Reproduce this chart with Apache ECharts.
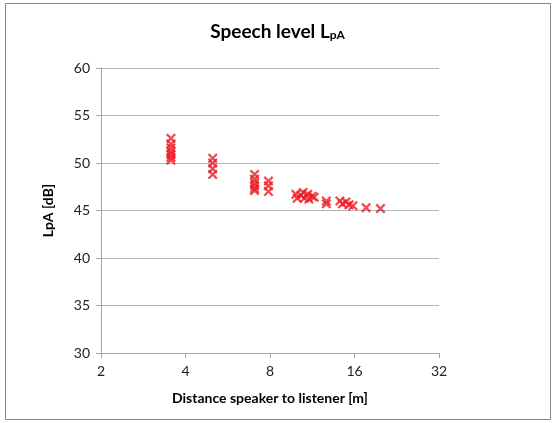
<!DOCTYPE html>
<html><head><meta charset="utf-8">
<script src="https://cdn.jsdelivr.net/npm/echarts@6/dist/echarts.min.js"></script>
<style>html,body{margin:0;padding:0;background:#fff}#c{width:555px;height:423px}</style>
</head><body><div id="c"></div>
<script>
var distances = [3.55,3.55,3.55,3.55,3.55,3.55,3.55,
  5.0,5.0,5.0,5.0,
  7.05,7.05,7.05,7.05,7.05,7.05,
  7.9,7.9,7.9,
  9.9,10.0,10.3,10.5,10.6,10.9,11.0,11.3,11.5,
  12.7,12.7,
  14.2,14.5,14.9,15.3,15.8,
  17.6,19.8];
var levels = [52.6,52.0,51.6,51.2,50.9,50.6,50.3,
  50.5,50.0,49.4,48.8,
  48.8,48.3,47.9,47.6,47.3,47.1,
  48.1,47.6,47.0,
  46.7,46.3,46.6,46.9,46.3,46.7,46.2,46.5,46.4,
  46.0,45.7,
  46.0,45.7,45.9,45.6,45.5,
  45.3,45.2];
var xTicks = [2,4,8,16,32];
var yMin = 30, yMax = 60, yStep = 5;

var pts = distances.map(function(d,i){return [d, levels[i]];});
var chart = echarts.init(document.getElementById('c'), null, {renderer:'canvas'});
var font = 'Lato, "Open Sans", sans-serif';
chart.setOption({
  animation:false,
  graphic:[{type:'rect',shape:{x:5.5,y:3.5,width:545,height:416},style:{fill:'none',stroke:'#868686',lineWidth:1},silent:true}],
  title:{
    text:'{m|Speech level L}{s|pA}',
    left:'center', top:17,
    textStyle:{rich:{
      m:{fontFamily:font,fontWeight:'bold',fontSize:19,color:'#000'},
      s:{fontFamily:font,fontWeight:'bold',fontSize:12,color:'#000',padding:[7,0,0,0]}
    }}
  },
  grid:{left:101,right:116,top:68,bottom:70},
  xAxis:{
    type:'log', logBase:2, min:2, max:32,
    name:'Distance speaker to listener [m]', nameLocation:'middle', nameGap:38,
    nameTextStyle:{fontFamily:font,fontWeight:'bold',fontSize:14,color:'#000'},
    axisLine:{show:true,lineStyle:{color:'#a6a6a6'}},
    axisTick:{show:true,length:5,lineStyle:{color:'#a6a6a6'}},
    axisLabel:{fontFamily:font,fontSize:14,color:'#222',margin:11,
      formatter:function(v){return xTicks.indexOf(Math.round(v))>=0?String(Math.round(v)):'';}},
    splitLine:{show:false}
  },
  yAxis:{
    type:'value', min:yMin, max:yMax, interval:yStep,
    name:'LpA [dB]', nameLocation:'middle', nameGap:46, nameRotate:90,
    nameTextStyle:{fontFamily:font,fontWeight:'bold',fontSize:14,color:'#000'},
    axisLine:{show:true,lineStyle:{color:'#a6a6a6'}},
    axisTick:{show:true,length:5,lineStyle:{color:'#a6a6a6'}},
    axisLabel:{fontFamily:font,fontSize:14,color:'#222',margin:11},
    splitLine:{show:true,lineStyle:{color:'#b3b3b3'}}
  },
  series:[{
    type:'scatter', data:pts,
    symbol:'path://M0,1.6L1.6,0L5,3.4L8.4,0L10,1.6L6.6,5L10,8.4L8.4,10L5,6.6L1.6,10L0,8.4L3.4,5Z',
    symbolSize:10,
    itemStyle:{color:'#ee1c25'}
  }]
});
</script></body></html>
